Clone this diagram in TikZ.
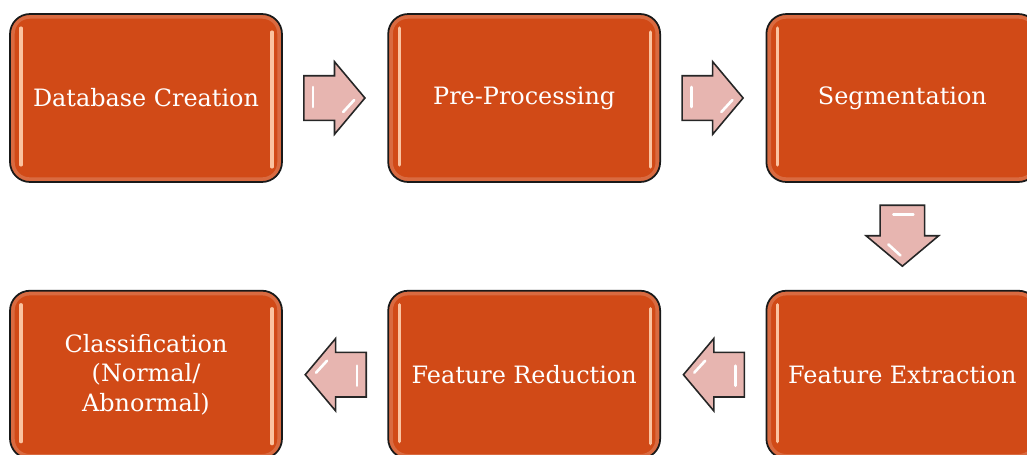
\documentclass[tikz,border=0pt]{standalone}
\usepackage{fontspec}
\setmainfont{DejaVu Serif}
\usetikzlibrary{positioning,shapes.arrows}

\definecolor{boxfill}{HTML}{D14A17}
\definecolor{glint}{HTML}{FBC3A0}
\definecolor{arrowfill}{HTML}{E7B5B0}

\begin{document}
\begin{tikzpicture}[
    x=0.02cm, y=-0.02cm,
    node distance=2.14cm and 2.09cm,
    stepbox/.style={
        draw=black!90, line width=1pt, fill=boxfill,
        rounded corners=0.4cm,
        minimum width=5.44cm, minimum height=3.36cm,
        text=white, align=center,
        font=\fontsize{13.6pt}{16.7pt}\selectfont,
        path picture={
            % soft rim just inside the border
            \draw[boxfill!60!white, opacity=0.45, line width=2.5pt, rounded corners=0.34cm]
                ([xshift=0.05cm, yshift=-0.05cm]path picture bounding box.north west)
                rectangle ([xshift=-0.05cm, yshift=0.05cm]path picture bounding box.south east);
            \draw[glint, line width=1.8pt, line cap=round]
                ([xshift=0.22cm, yshift=-0.28cm]path picture bounding box.north west)
                -- ([xshift=0.22cm, yshift=0.34cm]path picture bounding box.south west);
            \draw[glint, line width=1.8pt, line cap=round]
                ([xshift=-0.2cm, yshift=-0.36cm]path picture bounding box.north east)
                -- ([xshift=-0.2cm, yshift=0.3cm]path picture bounding box.south east);
        },
    },
    % centre anchor sits nearer the tail, so pull it back along the arrow
    flowarrow/.style={
        single arrow, draw=black!85, line width=0.9pt, fill=arrowfill,
        minimum height=1.22cm, minimum width=1.42cm,
        single arrow head extend=0.28cm, single arrow tip angle=100,
        inner xsep=0pt, inner ysep=0.43cm, xshift=-0.2cm,
    },
    shine/.style={white, line width=1.5pt, line cap=round},
]
\useasboundingbox (0,0) rectangle (1027,454);

% top row, left to right
\node[stepbox] (dbcreate) at (146,98) {Database Creation};
\node[stepbox, right=of dbcreate] (preproc) {Pre-Processing};
\node[stepbox, right=of preproc] (segment) {Segmentation};

% bottom row, right to left
\node[stepbox, below=of segment] (featextract) {Feature Extraction};
\node[stepbox, left=of featextract] (featreduce) {Feature Reduction};
\node[stepbox, left=of featreduce] (classify) {Classification\\(Normal/\\Abnormal)};

% block arrows between the steps
\path (dbcreate) -- (preproc) node[midway, flowarrow] (ar1) {};
\path (preproc) -- (segment) node[midway, flowarrow] (ar2) {};
\path (segment) -- (featextract) node[midway, rotate=-90, flowarrow] (ar3) {};
\path (featextract) -- (featreduce) node[midway, rotate=180, flowarrow] (ar4) {};
\path (featreduce) -- (classify) node[midway, rotate=180, flowarrow] (ar5) {};

% highlights on the arrows, measured from the tail
\foreach \ar/\ang in {ar1/0, ar2/0, ar3/-90, ar4/180, ar5/180} {
    \begin{scope}[shift={(\ar.tail)}, rotate=\ang]
        \draw[shine] (10,-11) -- (10,9);
        \draw[shine] (40,14) -- (51,2);
    \end{scope}
}
\end{tikzpicture}
\end{document}
